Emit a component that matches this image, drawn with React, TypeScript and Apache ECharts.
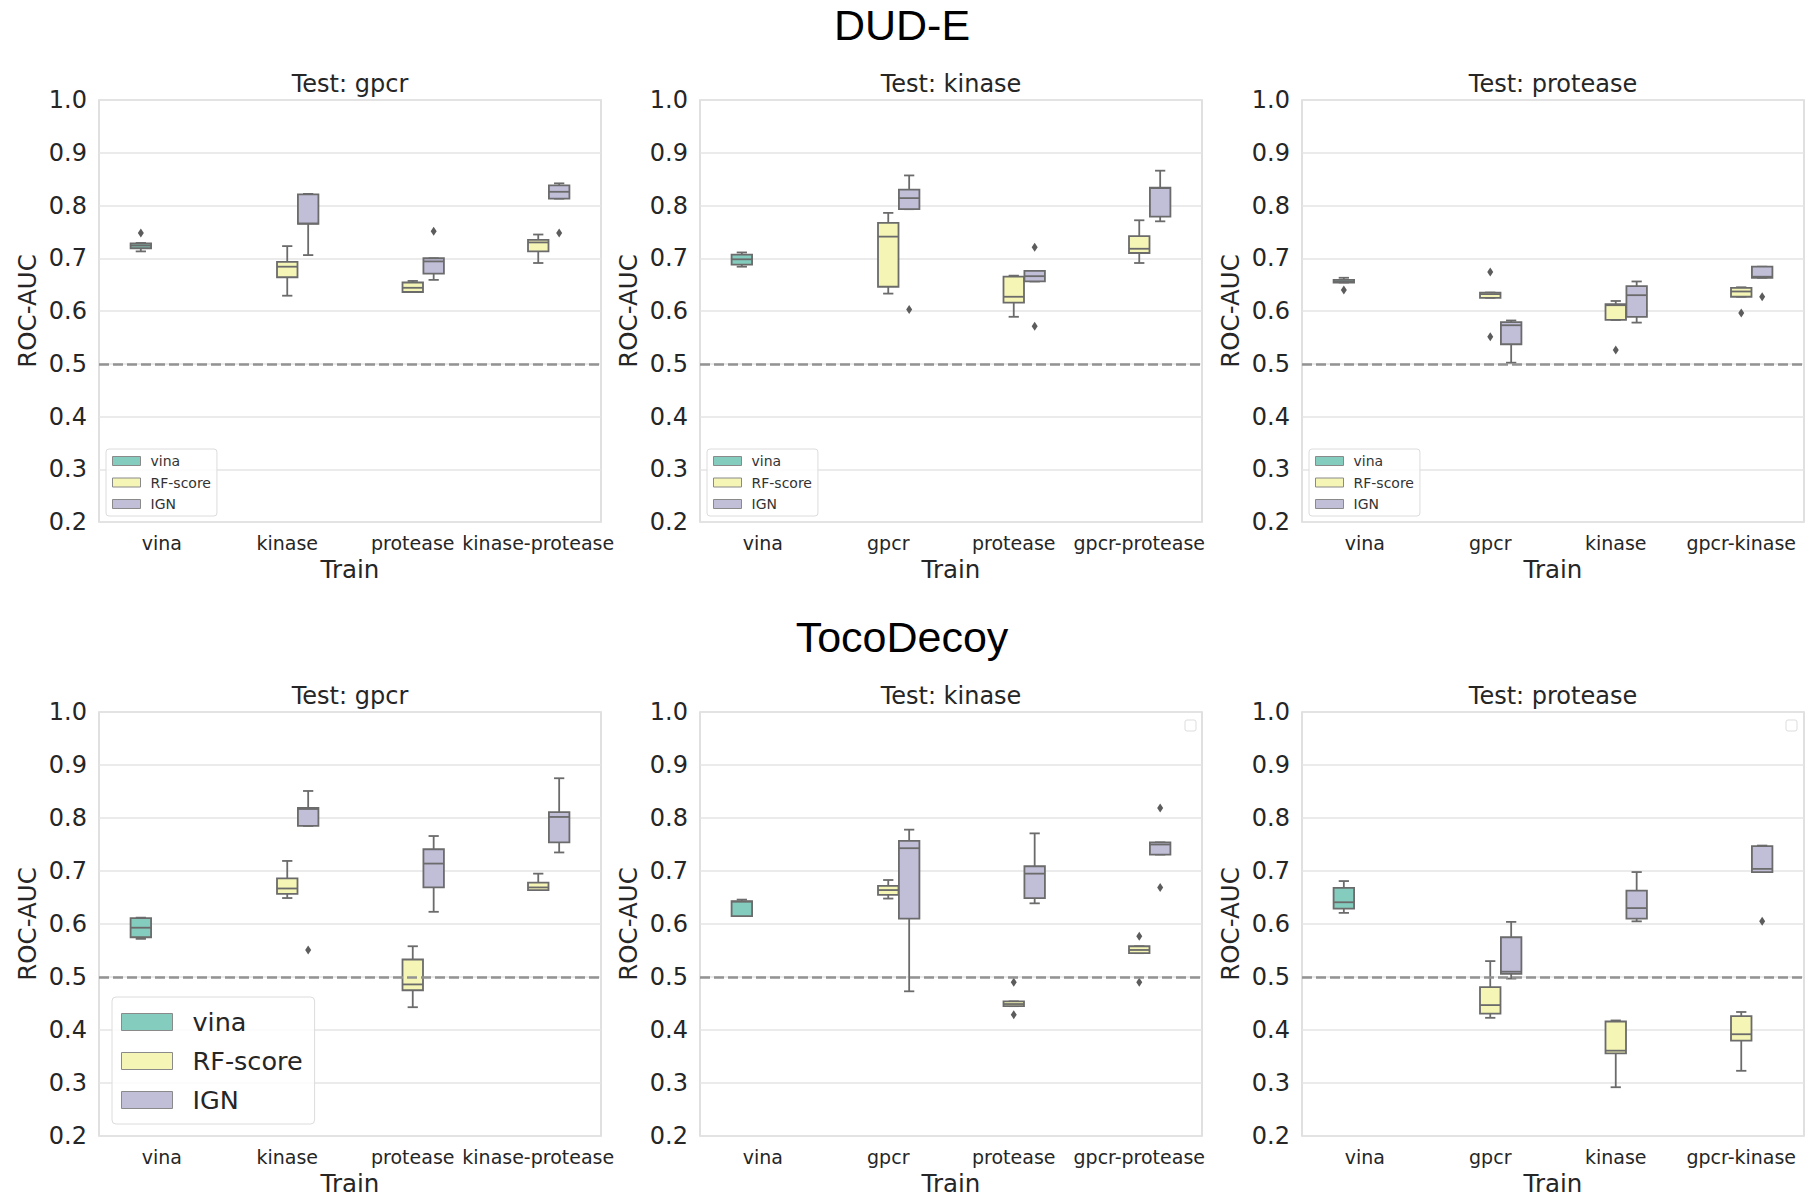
import React, { useEffect, useRef } from 'react';
import * as echarts from 'echarts';

const hues = ['vina', 'RF-score', 'IGN'];
const hueColors = ['#84ccbd', '#f5f6b6', '#c1bed8'];
const edgeGray = '#6b6b6b';
const font = 'DejaVu Sans';

const gpcrTrain = ['vina', 'kinase', 'protease', 'kinase-protease'];
const kinaseTrain = ['vina', 'gpcr', 'protease', 'gpcr-protease'];
const proteaseTrain = ['vina', 'gpcr', 'kinase', 'gpcr-kinase'];

const yTicks = [0.2, 0.3, 0.4, 0.5, 0.6, 0.7, 0.8, 0.9, 1.0];

// [train, model, lower whisker, q1, median, q3, upper whisker]
const dudeGpcrBoxes = [
  ['vina', 'vina', 0.713, 0.719, 0.724, 0.728, 0.729],
  ['kinase', 'RF-score', 0.629, 0.664, 0.684, 0.693, 0.723],
  ['kinase', 'IGN', 0.706, 0.765, 0.766, 0.821, 0.822],
  ['protease', 'RF-score', 0.636, 0.636, 0.644, 0.654, 0.657],
  ['protease', 'IGN', 0.659, 0.671, 0.694, 0.7, 0.7],
  ['kinase-protease', 'RF-score', 0.691, 0.713, 0.73, 0.735, 0.745],
  ['kinase-protease', 'IGN', 0.813, 0.813, 0.826, 0.838, 0.842],
];
const dudeGpcrFliers = [
  ['vina', 'vina', 0.748],
  ['protease', 'IGN', 0.751],
  ['kinase-protease', 'IGN', 0.748],
];

const dudeKinaseBoxes = [
  ['vina', 'vina', 0.684, 0.688, 0.698, 0.707, 0.711],
  ['gpcr', 'RF-score', 0.633, 0.646, 0.741, 0.767, 0.786],
  ['gpcr', 'IGN', 0.793, 0.793, 0.814, 0.83, 0.857],
  ['protease', 'RF-score', 0.589, 0.616, 0.627, 0.665, 0.667],
  ['protease', 'IGN', 0.656, 0.656, 0.666, 0.676, 0.676],
  ['gpcr-protease', 'RF-score', 0.691, 0.71, 0.718, 0.742, 0.772],
  ['gpcr-protease', 'IGN', 0.77, 0.779, 0.833, 0.834, 0.866],
];
const dudeKinaseFliers = [
  ['gpcr', 'IGN', 0.603],
  ['protease', 'IGN', 0.721],
  ['protease', 'IGN', 0.571],
];

const dudeProteaseBoxes = [
  ['vina', 'vina', 0.654, 0.654, 0.656, 0.659, 0.663],
  ['gpcr', 'RF-score', 0.625, 0.625, 0.632, 0.635, 0.635],
  ['gpcr', 'IGN', 0.502, 0.537, 0.573, 0.579, 0.582],
  ['kinase', 'RF-score', 0.583, 0.583, 0.611, 0.613, 0.619],
  ['kinase', 'IGN', 0.578, 0.589, 0.63, 0.647, 0.656],
  ['gpcr-kinase', 'RF-score', 0.627, 0.627, 0.637, 0.644, 0.645],
  ['gpcr-kinase', 'IGN', 0.663, 0.663, 0.665, 0.684, 0.684],
];
const dudeProteaseFliers = [
  ['vina', 'vina', 0.64],
  ['gpcr', 'RF-score', 0.674],
  ['gpcr', 'RF-score', 0.551],
  ['kinase', 'RF-score', 0.526],
  ['gpcr-kinase', 'RF-score', 0.596],
  ['gpcr-kinase', 'IGN', 0.627],
];

const tocoGpcrBoxes = [
  ['vina', 'vina', 0.572, 0.575, 0.593, 0.611, 0.612],
  ['kinase', 'RF-score', 0.649, 0.657, 0.667, 0.686, 0.719],
  ['kinase', 'IGN', 0.785, 0.785, 0.817, 0.819, 0.851],
  ['protease', 'RF-score', 0.443, 0.475, 0.486, 0.533, 0.558],
  ['protease', 'IGN', 0.623, 0.669, 0.714, 0.741, 0.766],
  ['kinase-protease', 'RF-score', 0.664, 0.664, 0.669, 0.678, 0.695],
  ['kinase-protease', 'IGN', 0.735, 0.754, 0.802, 0.811, 0.875],
];
const tocoGpcrFliers = [['kinase', 'IGN', 0.551]];

const tocoKinaseBoxes = [
  ['vina', 'vina', 0.615, 0.615, 0.642, 0.643, 0.646],
  ['gpcr', 'RF-score', 0.648, 0.655, 0.664, 0.672, 0.683],
  ['gpcr', 'IGN', 0.473, 0.61, 0.743, 0.757, 0.778],
  ['protease', 'RF-score', 0.445, 0.445, 0.449, 0.454, 0.454],
  ['protease', 'IGN', 0.639, 0.649, 0.695, 0.709, 0.771],
  ['gpcr-protease', 'RF-score', 0.545, 0.545, 0.551, 0.558, 0.558],
  ['gpcr-protease', 'IGN', 0.731, 0.731, 0.75, 0.754, 0.754],
];
const tocoKinaseFliers = [
  ['protease', 'RF-score', 0.49],
  ['protease', 'RF-score', 0.429],
  ['gpcr-protease', 'RF-score', 0.577],
  ['gpcr-protease', 'RF-score', 0.49],
  ['gpcr-protease', 'IGN', 0.819],
  ['gpcr-protease', 'IGN', 0.669],
];

const tocoProteaseBoxes = [
  ['vina', 'vina', 0.621, 0.629, 0.641, 0.668, 0.681],
  ['gpcr', 'RF-score', 0.423, 0.431, 0.447, 0.481, 0.53],
  ['gpcr', 'IGN', 0.497, 0.506, 0.51, 0.575, 0.604],
  ['kinase', 'RF-score', 0.292, 0.356, 0.361, 0.416, 0.418],
  ['kinase', 'IGN', 0.605, 0.61, 0.63, 0.663, 0.698],
  ['gpcr-kinase', 'RF-score', 0.323, 0.38, 0.392, 0.426, 0.434],
  ['gpcr-kinase', 'IGN', 0.698, 0.698, 0.704, 0.747, 0.748],
];
const tocoProteaseFliers = [['gpcr-kinase', 'IGN', 0.605]];

const panels = [
  { title: 'Test: gpcr', cats: gpcrTrain, boxes: dudeGpcrBoxes, fliers: dudeGpcrFliers },
  { title: 'Test: kinase', cats: kinaseTrain, boxes: dudeKinaseBoxes, fliers: dudeKinaseFliers },
  { title: 'Test: protease', cats: proteaseTrain, boxes: dudeProteaseBoxes, fliers: dudeProteaseFliers },
  { title: 'Test: gpcr', cats: gpcrTrain, boxes: tocoGpcrBoxes, fliers: tocoGpcrFliers },
  { title: 'Test: kinase', cats: kinaseTrain, boxes: tocoKinaseBoxes, fliers: tocoKinaseFliers },
  { title: 'Test: protease', cats: proteaseTrain, boxes: tocoProteaseBoxes, fliers: tocoProteaseFliers },
];

// layout
const colLeft = [99, 700, 1302];
const gridWidth = 502;
const rowTop = [100, 712];
const rowHeight = [422, 424];
const titleY = [84, 696];
const suptitles = [
  { text: 'DUD-E', y: 25 },
  { text: 'TocoDecoy', y: 637 },
];

const boxRender = (hueIdx: number) => (params: any, api: any) => {
  const cat = api.value(0);
  const band = api.size([1, 0])[0];
  const slot = band / 6;
  const cx = api.coord([cat, 0.5])[0] + (hueIdx - 1) * slot;
  const half = (slot * 0.98) / 2;
  const py = (i: number) => api.coord([cat, api.value(i)])[1];
  const lo = py(1);
  const q1 = py(2);
  const md = py(3);
  const q3 = py(4);
  const hi = py(5);
  const line = { stroke: edgeGray, lineWidth: 1.8 };
  return {
    type: 'group',
    children: [
      { type: 'line', shape: { x1: cx, y1: q3, x2: cx, y2: hi }, style: line },
      { type: 'line', shape: { x1: cx, y1: q1, x2: cx, y2: lo }, style: line },
      { type: 'line', shape: { x1: cx - half / 2, y1: hi, x2: cx + half / 2, y2: hi }, style: line },
      { type: 'line', shape: { x1: cx - half / 2, y1: lo, x2: cx + half / 2, y2: lo }, style: line },
      {
        type: 'rect',
        shape: { x: cx - half, y: q3, width: half * 2, height: Math.max(q1 - q3, 0.5) },
        style: { fill: api.visual('color'), stroke: edgeGray, lineWidth: 1.8 },
      },
      { type: 'line', shape: { x1: cx - half, y1: md, x2: cx + half, y2: md }, style: line },
    ],
  };
};

const flierRender = (params: any, api: any) => {
  const cat = api.value(0);
  const hueIdx = api.value(1);
  const band = api.size([1, 0])[0];
  const p = api.coord([cat, api.value(2)]);
  const cx = p[0] + (hueIdx - 1) * (band / 6);
  const cy = p[1];
  return {
    type: 'polygon',
    shape: { points: [[cx, cy - 4.5], [cx + 3, cy], [cx, cy + 4.5], [cx - 3, cy]] },
    style: { fill: '#5c5c5c' },
  };
};

const App: React.FC = () => {
  const chartRef = useRef<HTMLDivElement>(null);

  useEffect(() => {
    if (!chartRef.current) return;
    const chart = echarts.init(chartRef.current, undefined, { renderer: 'svg' });

    const grid: any[] = [];
    const xAxis: any[] = [];
    const yAxis: any[] = [];
    const series: any[] = [];
    const graphic: any[] = [];

    panels.forEach((panel, i) => {
      const row = Math.floor(i / 3);
      const col = i % 3;
      grid.push({
        left: colLeft[col],
        top: rowTop[row],
        width: gridWidth,
        height: rowHeight[row],
        show: true,
        backgroundColor: '#ffffff',
        borderColor: '#d6d6d6',
        borderWidth: 1.5,
      });
      xAxis.push({
        type: 'category',
        gridIndex: i,
        data: panel.cats,
        name: 'Train',
        nameLocation: 'middle',
        nameGap: 35,
        nameTextStyle: { fontSize: 24.5, color: '#262626', fontFamily: font },
        axisLine: { show: false },
        axisTick: { show: false },
        splitLine: { show: false },
        axisLabel: { interval: 0, fontSize: 19, color: '#262626', margin: 11, fontFamily: font },
      });
      yAxis.push({
        type: 'value',
        gridIndex: i,
        min: yTicks[0],
        max: yTicks[yTicks.length - 1],
        interval: 0.1,
        name: 'ROC-AUC',
        nameLocation: 'middle',
        nameGap: 59,
        nameTextStyle: { fontSize: 24.5, color: '#262626', fontFamily: font },
        axisLine: { show: false },
        axisTick: { show: false },
        splitLine: { lineStyle: { color: '#e4e4e4', width: 1.5 } },
        axisLabel: {
          fontSize: 24,
          color: '#262626',
          margin: 12,
          fontFamily: font,
          formatter: (v: number) => v.toFixed(1),
        },
      });

      hues.forEach((hue, h) => {
        series.push({
          type: 'custom',
          name: hue,
          xAxisIndex: i,
          yAxisIndex: i,
          itemStyle: { color: hueColors[h] },
          renderItem: boxRender(h),
          encode: { x: 0, y: [1, 2, 3, 4, 5] },
          data: panel.boxes
            .filter((b) => b[1] === hue)
            .map((b) => [panel.cats.indexOf(b[0] as string), b[2], b[3], b[4], b[5], b[6]]),
          z: 3,
        });
      });

      series.push({
        type: 'custom',
        name: 'outliers',
        xAxisIndex: i,
        yAxisIndex: i,
        renderItem: flierRender,
        encode: { x: 0, y: 2 },
        data: panel.fliers.map((f) => [
          panel.cats.indexOf(f[0] as string),
          hues.indexOf(f[1] as string),
          f[2],
        ]),
        z: 4,
      });

      series.push({
        type: 'line',
        name: 'chance',
        xAxisIndex: i,
        yAxisIndex: i,
        data: [],
        symbol: 'none',
        z: 5,
        markLine: {
          silent: true,
          symbol: ['none', 'none'],
          label: { show: false },
          lineStyle: { color: '#939393', width: 2.6, type: [10, 4] },
          data: [{ yAxis: 0.5 }],
        },
      });

      graphic.push({
        type: 'text',
        x: colLeft[col] + gridWidth / 2,
        y: titleY[row],
        style: {
          text: panel.title,
          fontSize: 24,
          fontFamily: font,
          fill: '#262626',
          align: 'center',
          verticalAlign: 'middle',
        },
      });
    });

    suptitles.forEach((s) => {
      graphic.push({
        type: 'text',
        x: 902,
        y: s.y,
        style: {
          text: s.text,
          fontSize: 43,
          fontFamily: 'Liberation Sans',
          fill: '#000000',
          align: 'center',
          verticalAlign: 'middle',
        },
      });
    });

    // empty legend frames in the last two TocoDecoy panels
    [1185, 1786].forEach((x) => {
      graphic.push({
        type: 'rect',
        shape: { x, y: 720, width: 11, height: 11, r: 2 },
        style: { fill: '#ffffff', stroke: '#dddddd', lineWidth: 1 },
      });
    });

    const smallLegend = (col: number) => ({
      orient: 'vertical',
      left: colLeft[col] + 7,
      top: 449,
      padding: [5, 6, 5, 6],
      itemWidth: 28,
      itemHeight: 9,
      itemGap: 7.5,
      icon: 'rect',
      selectedMode: false,
      data: hues,
      backgroundColor: 'rgba(255,255,255,0.85)',
      borderColor: '#dcdcdc',
      borderWidth: 1,
      borderRadius: 3,
      itemStyle: { borderColor: '#8a8a8a', borderWidth: 1 },
      formatter: (n: string) => `{t|${n}}`,
      textStyle: {
        fontSize: 14,
        fontFamily: font,
        color: '#333333',
        rich: { t: { fontSize: 14, fontFamily: font, color: '#333333', padding: [0, 0, 0, 5] } },
      },
    });

    const option: any = {
      animation: false,
      backgroundColor: '#ffffff',
      textStyle: { fontFamily: font },
      grid,
      xAxis,
      yAxis,
      series,
      graphic,
      legend: [
        smallLegend(0),
        smallLegend(1),
        smallLegend(2),
        {
          orient: 'vertical',
          left: 112,
          top: 997,
          padding: [12, 12, 11, 9],
          itemWidth: 51,
          itemHeight: 17,
          itemGap: 13,
          icon: 'rect',
          selectedMode: false,
          data: hues,
          backgroundColor: 'rgba(255,255,255,0.85)',
          borderColor: '#dcdcdc',
          borderWidth: 1,
          borderRadius: 4,
          itemStyle: { borderColor: '#8a8a8a', borderWidth: 1 },
          formatter: (n: string) => `{t|${n}}`,
          textStyle: {
            fontSize: 25.5,
            fontFamily: font,
            color: '#262626',
            rich: { t: { fontSize: 25.5, fontFamily: font, color: '#262626', padding: [0, 0, 0, 15] } },
          },
        },
      ],
    };

    chart.setOption(option);

    const handleResize = () => chart.resize();
    window.addEventListener('resize', handleResize);
    return () => {
      window.removeEventListener('resize', handleResize);
      chart.dispose();
    };
  }, []);

  return (
    <div
      ref={chartRef}
      style={{ position: 'fixed', left: 0, top: 0, width: 1814, height: 1199, background: '#fff' }}
    />
  );
};

export default App;
